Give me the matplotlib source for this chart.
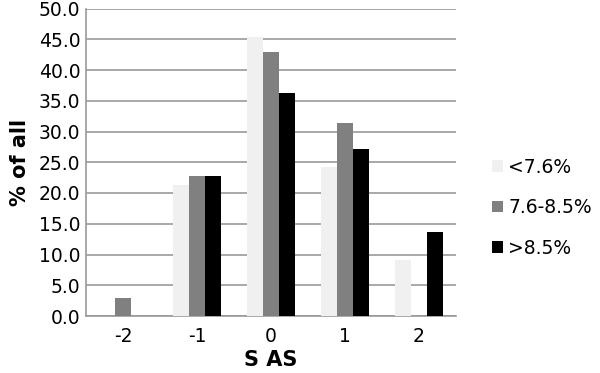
import matplotlib
matplotlib.use("Agg")
import matplotlib.pyplot as plt
import numpy as np

categories = ["-2", "-1", "0", "1", "2"]
series_names = ["<7.6%", "7.6-8.5%", ">8.5%"]
low = [0.0, 21.3, 45.3, 24.3, 9.1]
mid = [2.9, 22.8, 42.9, 31.4, 0.0]
high = [0.0, 22.8, 36.3, 27.2, 13.6]
colors = ["#f0f0f0", "#808080", "#000000"]
yticks = [0, 5, 10, 15, 20, 25, 30, 35, 40, 45, 50]

fig = plt.figure(figsize=(6.0, 3.73), dpi=100)
ax = fig.add_axes([86/600, 1-316/373, 370/600, 307.5/373])

x = np.arange(len(categories))
w = 0.22
for i, (vals, c, name) in enumerate(zip([low, mid, high], colors, series_names)):
    ax.bar(x + (i-1)*w, vals, width=w, color=c, label=name, zorder=3)

ax.set_xlim(-0.5, len(categories)-0.5)
ax.set_ylim(0, 50)
ax.set_yticks(yticks)
ax.set_yticklabels([f"{v:.1f}" for v in yticks], fontsize=13.5)
ax.set_xticks(x)
ax.set_xticklabels(categories, fontsize=13.5)
ax.tick_params(axis='x', length=0, pad=8)
ax.tick_params(axis='y', length=0, pad=4)
ax.yaxis.grid(True, color="#999999", linewidth=1.2, zorder=0)
for s in ["top", "right"]:
    ax.spines[s].set_visible(False)
for s in ["left", "bottom"]:
    ax.spines[s].set_color("#999999")
    ax.spines[s].set_linewidth(1.2)

ax.set_ylabel("% of all", fontsize=15, fontweight="bold", labelpad=6)
ax.set_xlabel("S AS", fontsize=15, fontweight="bold", labelpad=3)

leg = fig.legend(loc="upper left", bbox_to_anchor=(484/600, 1-150/373), frameon=False,
                 fontsize=13.5, handlelength=0.6, handleheight=0.6, handletextpad=0.3,
                 labelspacing=1.15, borderaxespad=0)

fig.savefig("out.png", dpi=100)
